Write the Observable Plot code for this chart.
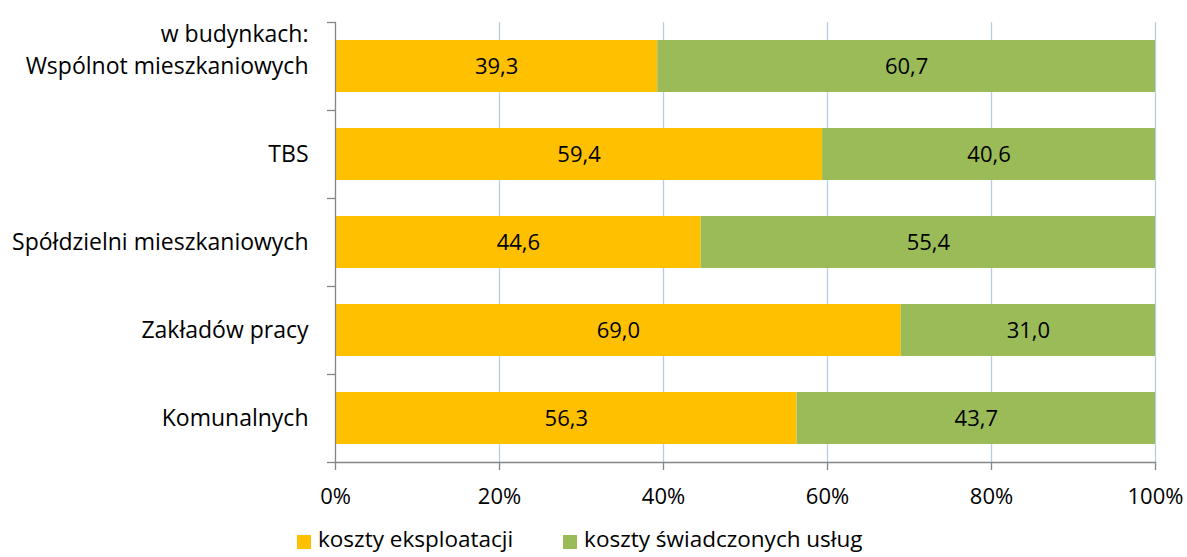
<!DOCTYPE html>
<html>
<head>
<meta charset="utf-8">
<script src="https://cdn.jsdelivr.net/npm/d3@7"></script>
<script src="https://cdn.jsdelivr.net/npm/@observablehq/plot@0.6"></script>
<style>
  body { margin: 0; background: #fff; font-family: "Open Sans", sans-serif; }
  #chart { position: relative; width: 1187px; height: 557px; }
  .legend { position: absolute; left: 297px; top: 524px; height: 30px; display: flex; align-items: center; font-size: 22.5px; line-height: 30px; color: #000; }
  .legend .item { display: flex; align-items: center; white-space: nowrap; }
  .legend .sw { width: 14px; height: 14px; margin-right: 7px; position: relative; top: 3px; }
</style>
</head>
<body>
<div id="chart"></div>
<script>
const categories = ["Wspólnot mieszkaniowych", "TBS", "Spółdzielni mieszkaniowych", "Zakładów pracy", "Komunalnych"];
const seriesNames = ["koszty eksploatacji", "koszty świadczonych usług"];
const eksploatacji = [39.3, 59.4, 44.6, 69.0, 56.3];
const uslug = [60.7, 40.6, 55.4, 31.0, 43.7];
const xTicks = [0, 20, 40, 60, 80, 100];
const colors = ["#FFC000", "#9BBB59"];
const axisTitle = "w budynkach:";

const data = [];
categories.forEach((c, i) => {
  data.push({cat: c, series: seriesNames[0], value: eksploatacji[i]});
  data.push({cat: c, series: seriesNames[1], value: uslug[i]});
});
const fmt = v => v.toFixed(1).replace(".", ",");
const gray = "#868686";

const plot = Plot.plot({
  width: 1187,
  height: 510,
  marginLeft: 335,
  marginRight: 32,
  marginTop: 22,
  marginBottom: 48,
  style: {fontFamily: "'Open Sans', sans-serif", fontSize: "22px", color: "#000", background: "#fff"},
  x: {domain: [0, 100], ticks: xTicks},
  y: {domain: categories, paddingInner: 0.41, paddingOuter: 0.205, label: null},
  color: {domain: seriesNames, range: colors},
  marks: [
    Plot.gridX(xTicks.filter(t => t > 0), {stroke: "#B9CDE5", strokeOpacity: 1, strokeWidth: 1.3}),
    Plot.barX(data, Plot.stackX({y: "cat", x: "value", fill: "series", order: seriesNames})),
    Plot.text(data, Plot.stackX({y: "cat", x: "value", z: "series", order: seriesNames, text: d => fmt(d.value), fill: "#000", fontSize: 22})),
    Plot.axisX({ticks: xTicks, tickFormat: d => d + "%", tickSize: 8, tickPadding: 18, stroke: gray, strokeWidth: 1.3, fontSize: 22, label: null}),
    Plot.axisY({tickSize: 0, tickPadding: 27, fontSize: 23, label: null}),
    Plot.axisY({tickSize: 8, text: null, dy: -44, stroke: gray, strokeWidth: 1.3, label: null}),
    Plot.axisY({ticks: [categories[categories.length - 1]], tickSize: 8, text: null, dy: 44, stroke: gray, strokeWidth: 1.3, label: null}),
    Plot.frame({anchor: "left", stroke: gray, strokeWidth: 1.3}),
    Plot.frame({anchor: "bottom", stroke: gray, strokeWidth: 1.3}),
    Plot.text([axisTitle], {frameAnchor: "top-left", text: d => d, textAnchor: "end", dx: -27, dy: 3, fontSize: 23, fill: "#000"})
  ]
});

const chart = document.getElementById("chart");
chart.appendChild(plot);
const legend = document.createElement("div");
legend.className = "legend";
seriesNames.forEach((s, i) => {
  const item = document.createElement("div");
  item.className = "item";
  item.style.marginRight = i === 0 ? "50px" : "0";
  const sw = document.createElement("span");
  sw.className = "sw";
  sw.style.background = colors[i];
  const t = document.createElement("span");
  t.textContent = s;
  item.appendChild(sw);
  item.appendChild(t);
  legend.appendChild(item);
});
chart.appendChild(legend);
</script>
</body>
</html>
